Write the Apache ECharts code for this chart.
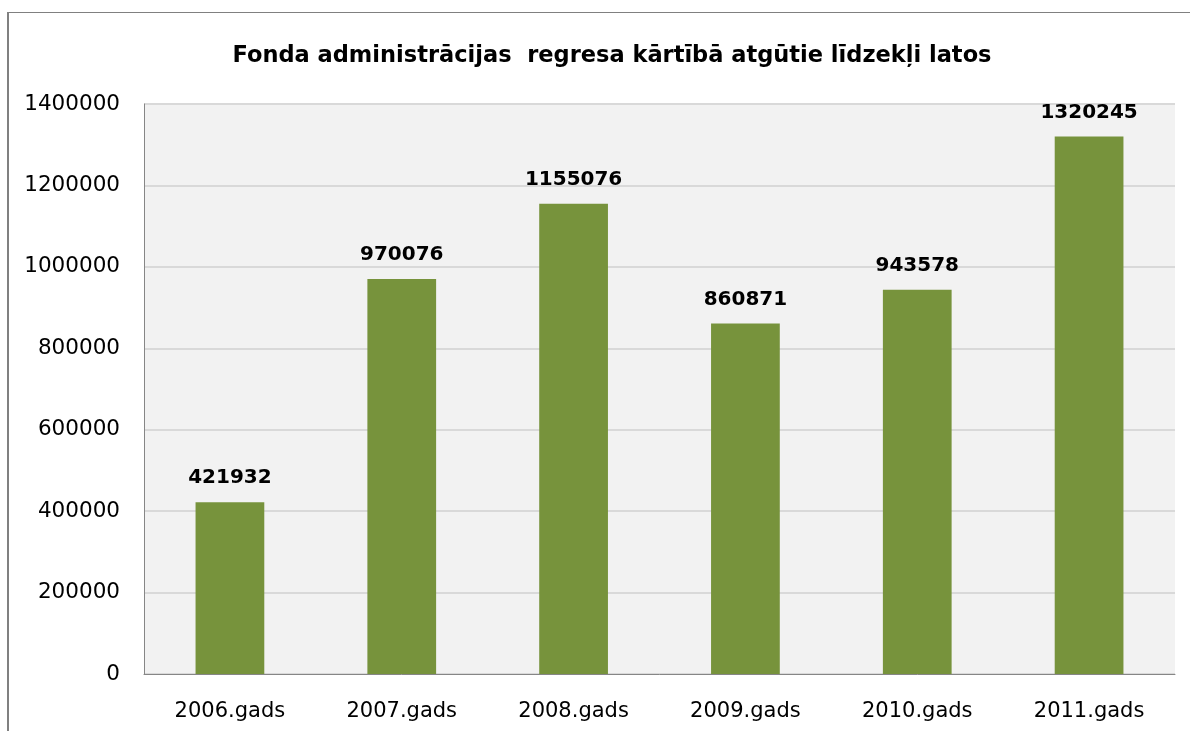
<!DOCTYPE html>
<html>
<head>
<meta charset="utf-8">
<script src="https://cdn.jsdelivr.net/npm/echarts@6/dist/echarts.min.js"></script>
<style>
  html, body { margin: 0; padding: 0; background: #fff; }
  #frame {
    position: absolute; left: 7px; top: 12px; width: 1190px; height: 731px;
    border-left: 2px solid #808080; border-top: 1px solid #808080;
  }
  #chart { position: absolute; left: 0; top: 0; width: 1190px; height: 731px; }
</style>
</head>
<body>
<div id="frame"></div>
<div id="chart"></div>
<script>
const years = ['2006.gads', '2007.gads', '2008.gads', '2009.gads', '2010.gads', '2011.gads'];
const amounts = [421932, 970076, 1155076, 860871, 943578, 1320245];
const titleText = 'Fonda administrācijas  regresa kārtībā atgūtie līdzekļi latos';

const fontFamily = '"DejaVu Sans", sans-serif';
const chart = echarts.init(document.getElementById('chart'));

chart.setOption({
  backgroundColor: 'transparent',
  animation: false,
  title: {
    text: titleText,
    left: 607,
    top: 40,
    textAlign: 'center',
    textStyle: { fontFamily, fontSize: 22.5, fontWeight: 'bold', color: '#000' }
  },
  grid: { left: 144, right: 15, top: 104, bottom: 57, containLabel: false },
  xAxis: {
    type: 'category',
    data: years,
    axisLine: { show: true, lineStyle: { color: '#868686', width: 1 } },
    axisTick: { show: false },
    axisLabel: { color: '#000', fontFamily, fontSize: 21, margin: 27 },
    splitLine: { show: false },
    splitArea: { show: false }
  },
  yAxis: {
    type: 'value',
    min: 0,
    max: 1400000,
    interval: 200000,
    axisLine: { show: true, lineStyle: { color: '#868686', width: 1 } },
    axisTick: { show: false },
    axisLabel: {
      color: '#000', fontFamily, fontSize: 21.5, margin: 24,
      formatter: (value) => String(value)
    },
    splitLine: { show: true, lineStyle: { color: '#D9D9D9', width: 2 } },
    splitArea: { show: true, areaStyle: { color: ['#F2F2F2', '#F2F2F2'] } }
  },
  series: [{
    type: 'bar',
    data: amounts,
    barWidth: '40%',
    itemStyle: { color: '#77933C' },
    label: {
      show: true,
      position: 'top',
      distance: 14,
      color: '#000',
      fontFamily,
      fontSize: 20,
      fontWeight: 'bold'
    }
  }]
});
</script>
</body>
</html>
